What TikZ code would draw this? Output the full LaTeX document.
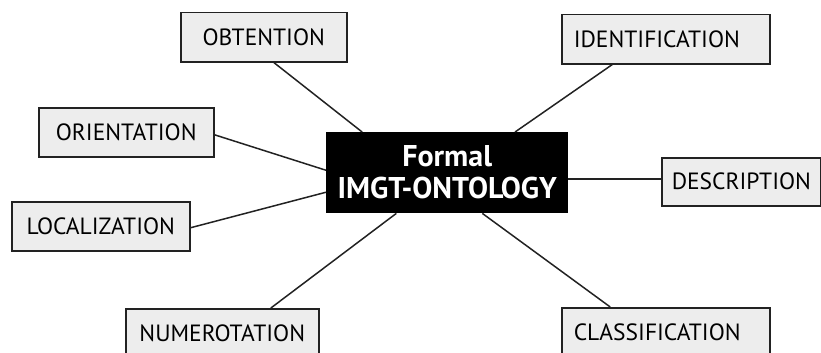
\documentclass[tikz,border=0pt]{standalone}
\usepackage{fontspec}
\setmainfont{PT Sans}
\usetikzlibrary{calc}
\definecolor{boxfill}{HTML}{EDEDED}
\definecolor{boxline}{HTML}{222222}
\begin{document}
\begin{tikzpicture}[x=1pt,y=-1pt,
  concept/.style={draw=boxline,fill=boxfill,line width=1.5pt,minimum height=49pt,
    inner sep=0pt,font=\fontsize{23.5}{26}\selectfont,anchor=north west},
  core/.style={fill=black,text=white,minimum width=242pt,minimum height=81pt,inner sep=0pt,
    align=center,font=\bfseries\fontsize{30}{32}\selectfont,anchor=north west},
  link/.style={draw=boxline,line width=1.5pt}]
\useasboundingbox (0,0) rectangle (821,353);
\clip (0,0) rectangle (821,353);
\node[core] (c) at (326,132) {Formal\\IMGT-ONTOLOGY};
\node[concept,minimum width=166pt] (obt) at (180,12) {OBTENTION};
\node[concept,minimum width=175pt] (ori) at (38,107) {ORIENTATION};
\node[concept,minimum width=178pt] (loc) at (11,201) {LOCALIZATION};
\node[concept,minimum width=193pt] (num) at (125,308) {NUMEROTATION};
\node[concept,minimum width=208pt,text width=184pt,inner xsep=12pt,align=left] (ide) at (561,14) {IDENTIFICATION};
\node[concept,minimum width=159pt,minimum height=48pt,text width=139pt,inner xsep=10pt,align=left] (des) at (661,157) {DESCRIPTION};
\node[concept,minimum width=208pt,text width=184pt,inner xsep=12pt,align=left] (cla) at (561,307) {CLASSIFICATION};
% connectors
\draw[link] ($(obt.south west)!0.56!(obt.south east)$) -- ($(c.north west)!0.149!(c.north east)$);
\draw[link] ($(ori.north east)!0.55!(ori.south east)$) -- ($(c.north west)!0.47!(c.south west)$);
\draw[link] ($(loc.north east)!0.53!(loc.south east)$) -- ($(c.north west)!0.74!(c.south west)$);
\draw[link] ($(num.north west)!0.75!(num.north east)$) -- ($(c.south west)!0.29!(c.south east)$);
\draw[link] ($(ide.south west)!0.245!(ide.south east)$) -- ($(c.north west)!0.78!(c.north east)$);
\coordinate (dl) at ($(des.north west)!0.44!(des.south west)$);
\draw[link] (dl) -- (c.east |- dl);
\draw[link] ($(cla.north west)!0.235!(cla.north east)$) -- ($(c.south west)!0.645!(c.south east)$);
\end{tikzpicture}
\end{document}
